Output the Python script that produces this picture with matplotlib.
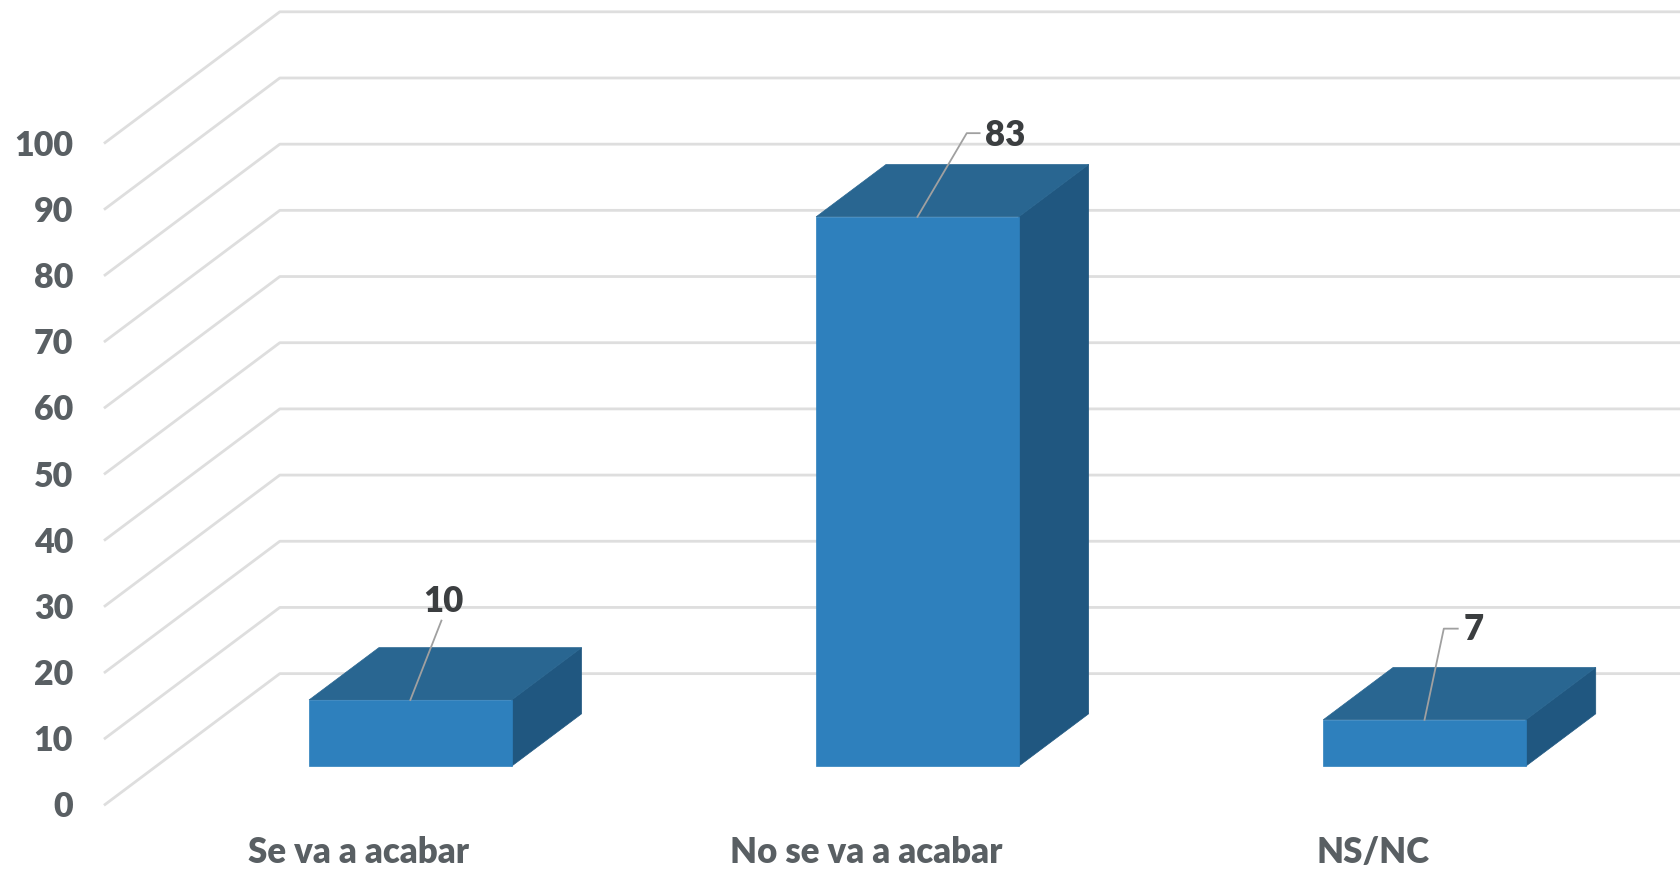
import matplotlib
matplotlib.use("Agg")
import matplotlib.pyplot as plt
from matplotlib.patches import Polygon

plt.rcParams['font.family'] = ['Lato', 'DejaVu Sans']

categories = ["Se va a acabar", "No se va a acabar", "NS/NC"]
values = [10, 83, 7]
y_ticks = [0, 10, 20, 30, 40, 50, 60, 70, 80, 90, 100]

# layout, in units of the reference as shown (1568 x 812)
REF_W, REF_H = 1568, 812
FRONT_X, FRONT_Y = 98, 750
CAT_PX, VAL_PX = 473, 6.17
DEPTH_DX = 163 / CAT_PX
DEPTH_DY = 122 / VAL_PX
BAR_W = 189 / CAT_PX
BAR_D0, BAR_D1 = 0.293, 0.693
BAR_SHIFT = 0.5 / CAT_PX

C_FRONT, C_TOP, C_SIDE = "#2E80BD", "#296691", "#205780"
C_GRID, C_TICK, C_LABEL, C_LEADER = "#DEDEDE", "#595F63", "#3B3E40", "#A0A0A0"

fig = plt.figure(figsize=(16.81, 8.71), dpi=100)
ax = fig.add_axes([FRONT_X / REF_W, (REF_H - FRONT_Y) / REF_H,
                   1 - FRONT_X / REF_W, FRONT_Y / REF_H])
ax.set_xlim(0, (REF_W - FRONT_X) / CAT_PX)
ax.set_ylim(0, FRONT_Y / VAL_PX)
for s in ax.spines.values():
    s.set_visible(False)

ax.set_yticks(y_ticks)
ax.set_yticklabels([str(t) for t in y_ticks], fontsize=24.5, fontweight='heavy', color=C_TICK)
ax.set_xticks([i + 0.5 for i in range(len(categories))])
ax.set_xticklabels(categories, fontsize=25, fontweight='heavy', color=C_TICK)
ax.tick_params(axis='both', length=0)
ax.tick_params(axis='y', pad=23)
ax.tick_params(axis='x', pad=23)


def project(x, y, depth):
    return (x + depth * DEPTH_DX, y + depth * DEPTH_DY)


xmax = ax.get_xlim()[1]
for t in y_ticks:
    x0, y0 = project(0, t, 0)
    x1, y1 = project(0, t, 1)
    ax.plot([x0, x1, xmax], [y0, y1, y1], color=C_GRID, lw=2.0, zorder=1,
            solid_joinstyle='round', clip_on=False)

# leader line offsets from the top-front midpoint of each bar, then label offset
leaders = [
    [(29 / CAT_PX, 74 / VAL_PX)],
    [(46 / CAT_PX, 78 / VAL_PX), (58 / CAT_PX, 78 / VAL_PX)],
    [(18 / CAT_PX, 85 / VAL_PX), (31 / CAT_PX, 85 / VAL_PX)],
]
label_offsets = [
    (31 / CAT_PX, 92 / VAL_PX),
    (82 / CAT_PX, 76 / VAL_PX),
    (46 / CAT_PX, 84 / VAL_PX),
]

for i, v in enumerate(values):
    xl = i + 0.5 - BAR_W / 2 + BAR_SHIFT
    xr = xl + BAR_W
    f = [project(xl, 0, BAR_D0), project(xr, 0, BAR_D0),
         project(xr, v, BAR_D0), project(xl, v, BAR_D0)]
    top = [project(xl, v, BAR_D0), project(xr, v, BAR_D0),
           project(xr, v, BAR_D1), project(xl, v, BAR_D1)]
    side = [project(xr, 0, BAR_D0), project(xr, 0, BAR_D1),
            project(xr, v, BAR_D1), project(xr, v, BAR_D0)]
    ax.add_patch(Polygon(side, closed=True, fc=C_SIDE, ec=C_SIDE, lw=0.5, zorder=3))
    ax.add_patch(Polygon(top, closed=True, fc=C_TOP, ec=C_TOP, lw=0.5, zorder=3))
    ax.add_patch(Polygon(f, closed=True, fc=C_FRONT, ec=C_FRONT, lw=0.5, zorder=4))

    ax0, ay0 = project(i + 0.5 + BAR_SHIFT, v, BAR_D0)
    xs = [ax0] + [ax0 + o[0] for o in leaders[i]]
    ys = [ay0] + [ay0 + o[1] for o in leaders[i]]
    ax.plot(xs, ys, color=C_LEADER, lw=1.3, zorder=5)
    ax.text(ax0 + label_offsets[i][0], ay0 + label_offsets[i][1], str(v),
            ha='center', va='center', fontsize=25, fontweight='heavy',
            color=C_LABEL, zorder=6)

fig.savefig("out.png", dpi=100, facecolor='white')
